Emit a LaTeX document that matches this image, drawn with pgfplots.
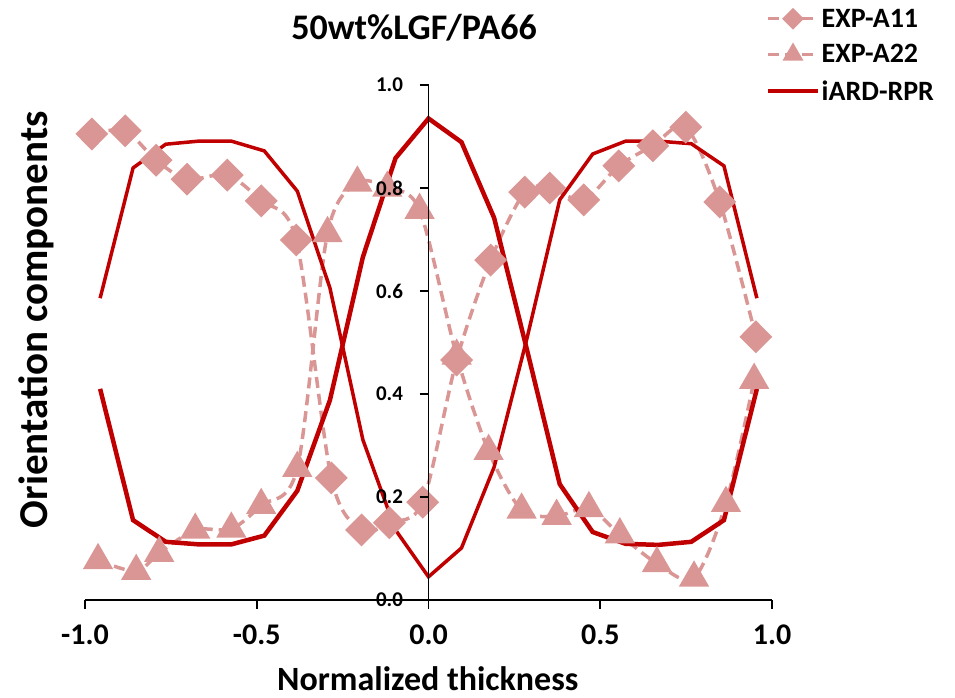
\documentclass[border=0pt]{standalone}
\usepackage{fontspec}
\setmainfont{Carlito}
\usepackage{pgfplots}
\pgfplotsset{compat=1.18}
\definecolor{expcol}{HTML}{D99694}
\definecolor{modcol}{HTML}{C00000}

\begin{document}
\begin{tikzpicture}
\begin{axis}[
    at={(0,0)}, anchor=south west,
    scale only axis, width=687bp, height=515bp,
    xmin=-1, xmax=1, ymin=0, ymax=1,
    axis x line=bottom, axis y line=middle,
    axis line style={-, line width=1.8bp, black},
    set layers=axis on top,
    xtick={-1,-0.5,0,0.5,1},
    ytick={0,0.2,0.4,0.6,0.8,1},
    hide obscured x ticks=false, hide obscured y ticks=false,
    tick align=outside,
    major tick length=9bp,
    tick style={line width=1.8bp, black},
    xticklabel style={font=\fontsize{30bp}{33bp}\selectfont\bfseries, yshift=-12bp,
        /pgf/number format/fixed, /pgf/number format/fixed zerofill,
        /pgf/number format/precision=1, /pgf/number format/assume math mode=true},
    yticklabel style={font=\fontsize{21bp}{24bp}\selectfont\bfseries, xshift=-13bp,
        /pgf/number format/fixed, /pgf/number format/fixed zerofill,
        /pgf/number format/precision=1, /pgf/number format/assume math mode=true},
    title={50wt\%LGF/PA66},
    title style={at={(0.479,1.100)}, anchor=center, font=\fontsize{36bp}{40bp}\selectfont\bfseries},
    xlabel={Normalized thickness},
    xlabel style={at={(0.499,-0.152)}, anchor=center, font=\fontsize{34bp}{37bp}\selectfont\bfseries},
    ylabel={Orientation components},
    ylabel style={at={(-0.071,0.544)}, anchor=center, rotate=90, font=\fontsize{41bp}{44bp}\selectfont\bfseries},
    legend style={at={(1.239,1.152)}, anchor=north east, draw=none, fill=none,
        font=\fontsize{28bp}{32bp}\selectfont\bfseries, row sep=12bp, inner sep=0pt},
    legend cell align=left,
    legend image code/.code={\draw[mark repeat=2, mark phase=2, #1] plot coordinates {(0bp,0bp) (25bp,0bp) (50bp,0bp)};},
    legend image post style={mark size=8.5bp},
]
% experiment A11
\addplot[expcol, line width=3.5bp, dash pattern=on 11bp off 6bp, smooth,
    mark=diamond*, mark size=14bp, mark options={solid, fill=expcol, draw=expcol, xscale=1.33}]
  coordinates {(-0.980,0.905) (-0.883,0.911) (-0.793,0.854) (-0.703,0.817) (-0.586,0.825)
    (-0.487,0.775) (-0.385,0.699) (-0.283,0.237) (-0.195,0.136) (-0.114,0.150) (-0.017,0.190)
    (0.082,0.466) (0.181,0.660) (0.280,0.792) (0.353,0.800) (0.452,0.777) (0.554,0.843)
    (0.653,0.882) (0.749,0.918) (0.848,0.773) (0.953,0.511)};
\addlegendentry{EXP-A11}
% experiment A22
\addplot[expcol, line width=3.5bp, dash pattern=on 11bp off 6bp, smooth,
    mark=triangle*, mark size=14bp, mark options={solid, fill=expcol, draw=expcol}]
  coordinates {(-0.962,0.077) (-0.851,0.056) (-0.784,0.091) (-0.679,0.136) (-0.574,0.138)
    (-0.487,0.184) (-0.382,0.256) (-0.294,0.712) (-0.207,0.810) (-0.120,0.800) (-0.026,0.757)
    (0.082,0.474) (0.175,0.289) (0.271,0.175) (0.373,0.163) (0.467,0.178) (0.557,0.127)
    (0.665,0.071) (0.773,0.043) (0.866,0.188) (0.948,0.427)};
\addlegendentry{EXP-A22}
% model A11
\addplot[modcol, line width=3.5bp, mark=none]
  coordinates {(-0.956,0.586) (-0.860,0.839) (-0.765,0.885) (-0.669,0.891) (-0.574,0.891)
    (-0.478,0.872) (-0.382,0.794) (-0.287,0.606) (-0.191,0.311) (-0.096,0.136) (0,0.045)
    (0.096,0.101) (0.191,0.258) (0.287,0.509) (0.382,0.777) (0.478,0.866) (0.574,0.891)
    (0.669,0.891) (0.765,0.886) (0.860,0.843) (0.956,0.586)};
\addlegendentry{iARD-RPR}
% model A22
\addplot[modcol, line width=4.5bp, mark=none, forget plot]
  coordinates {(-0.956,0.410) (-0.860,0.155) (-0.765,0.113) (-0.669,0.108) (-0.574,0.108)
    (-0.478,0.125) (-0.382,0.212) (-0.287,0.388) (-0.191,0.666) (-0.096,0.858) (0,0.935)
    (0.096,0.889) (0.191,0.742) (0.287,0.485) (0.382,0.225) (0.478,0.132) (0.574,0.109)
    (0.669,0.107) (0.765,0.113) (0.860,0.155) (0.956,0.410)};
\end{axis}
\pgfresetboundingbox
\path[use as bounding box] (-85bp,-98bp) rectangle (870bp,600bp);
\end{tikzpicture}
\end{document}
